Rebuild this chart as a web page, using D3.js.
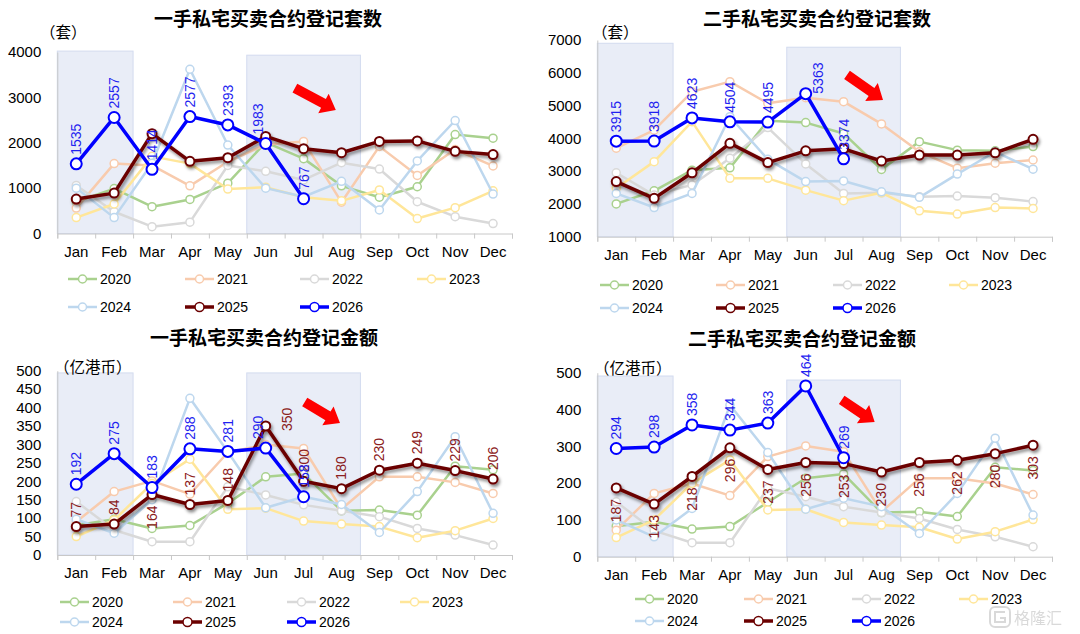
<!DOCTYPE html>
<html>
<head>
<meta charset="utf-8">
<script src="https://cdn.jsdelivr.net/npm/d3@7"></script>
<style>
  body { margin: 0; background: #fff; }
  text { font-family: "Liberation Sans", Arial, sans-serif; }
  .cjk { font-family: "Noto Sans CJK SC", sans-serif; }
</style>
</head>
<body>
<div id="chart"></div>
<script>
// page size
const width = 1080
const height = 634

// categories
const months = ['Jan', 'Feb', 'Mar', 'Apr', 'May', 'Jun', 'Jul', 'Aug', 'Sep', 'Oct', 'Nov', 'Dec']
const years = ['2020', '2021', '2022', '2023', '2024', '2025', '2026']

// 一手私宅 套数 (rows = years 2020..2026)
const newUnits = [
  [700, 990, 590, 750, 1110, 2010, 1650, 1050, 800, 1030, 2180, 2100],
  [560, 1540, 1500, 1050, 1580, 1960, 2030, 690, 1920, 1280, 1850, 1490],
  [1060, 480, 150, 250, 1500, 1370, 1180, 1560, 1420, 700, 370, 220],
  [350, 650, 1700, 1540, 980, 1020, 800, 720, 960, 330, 570, 940],
  [1000, 350, 1550, 3620, 1950, 1000, 810, 1150, 520, 1600, 2490, 870],
  [760, 890, 2200, 1590, 1670, 2140, 1870, 1780, 2030, 2040, 1810, 1740],
  [1535, 2557, 1414, 2577, 2393, 1983, 767]
]

// 二手私宅 套数
const secondUnits = [
  [2000, 2400, 3030, 3100, 4540, 4480, 4150, 3050, 3900, 3640, 3620, 3750],
  [3700, 4250, 5420, 5730, 5070, 5240, 5120, 4440, 3590, 3090, 3240, 3340],
  [2950, 2270, 2580, 3390, 4330, 3220, 2320, 2340, 2220, 2240, 2190, 2070],
  [2480, 3290, 4510, 2780, 2780, 2420, 2100, 2340, 1790, 1690, 1890, 1860],
  [2320, 1890, 2320, 4660, 3360, 2680, 2700, 2370, 2200, 2910, 3590, 3060],
  [2680, 2170, 2950, 3850, 3260, 3620, 3680, 3310, 3490, 3490, 3560, 3970],
  [3915, 3918, 4623, 4504, 4495, 5363, 3374]
]

// 一手私宅 金额 (亿港币)
const newAmount = [
  [81, 97, 72, 80, 140, 212, 221, 120, 122, 108, 241, 231],
  [90, 172, 201, 165, 278, 300, 289, 125, 212, 212, 197, 167],
  [145, 68, 36, 36, 185, 163, 136, 120, 104, 72, 54, 27],
  [50, 95, 194, 260, 124, 127, 92, 84, 77, 47, 66, 99],
  [97, 59, 150, 425, 280, 128, 158, 137, 61, 172, 321, 113],
  [77, 84, 164, 137, 148, 350, 200, 180, 230, 249, 229, 206],
  [192, 275, 183, 288, 281, 290, 158]
]

// 二手私宅 金额 (亿港币)
const secondAmount = [
  [83, 95, 75, 82, 148, 213, 225, 120, 122, 109, 243, 234],
  [72, 172, 199, 166, 272, 301, 285, 122, 213, 213, 199, 169],
  [149, 71, 38, 38, 186, 163, 136, 120, 104, 74, 54, 27],
  [52, 100, 199, 263, 127, 129, 93, 86, 80, 48, 68, 101],
  [100, 54, 131, 412, 283, 129, 159, 136, 63, 172, 322, 113],
  [187, 143, 218, 296, 237, 256, 253, 230, 256, 262, 280, 303],
  [294, 298, 358, 344, 363, 464, 269]
]

// tick labels
const newUnitsTicks = [0, 1000, 2000, 3000, 4000]
const secondUnitsTicks = [1000, 2000, 3000, 4000, 5000, 6000, 7000]
const newAmountTicks = [0, 50, 100, 150, 200, 250, 300, 350, 400, 450, 500]
const secondAmountTicks = [0, 100, 200, 300, 400, 500]

const colors = ['#a9d18e', '#f8cbad', '#d9d9d9', '#ffe699', '#bdd7ee', '#6b0000', '#0000ff']
const lineW = [2.5, 2.5, 2.5, 2.5, 2.5, 3.5, 3.5]
const dotR = [4, 4, 4, 4, 4, 4.5, 5.5]

const svg = d3.select('#chart')
  .append('svg')
  .attr('width', width)
  .attr('height', height)

const defs = svg.append('defs')
defs.append('filter')
  .attr('id', 'shadow')
  .attr('x', '-10%').attr('y', '-30%').attr('width', '120%').attr('height', '160%')
  .append('feDropShadow')
  .attr('dx', 1.5).attr('dy', 2.5)
  .attr('stdDeviation', 1.6)
  .attr('flood-color', '#000')
  .attr('flood-opacity', 0.45)

// layout of the four panels
const panels = [
  { title: '一手私宅买卖合约登记套数', unit: '（套）', data: newUnits, ticks: newUnitsTicks,
    left: 57.3, right: 512, top: 52, bottom: 233.5,
    titleX: 268, titleY: 26, unitX: 40, unitY: 38,
    shades: [[0, 1, 4020], [5, 7, 3930]], arrow: [[5.77, 3205], [6.85, 2720]],
    legendX: [68, 185, 300, 417], legendY: [279, 307],
    blueLab: ['u', 'u', 'u', 'u', 'u', 'ul', 'u'], redLab: null },
  { title: '二手私宅买卖合约登记套数', unit: '（套）', data: secondUnits, ticks: secondUnitsTicks,
    left: 597.3, right: 1052, top: 40, bottom: 236.7,
    titleX: 817, titleY: 26, unitX: 592, unitY: 38,
    shades: [[0, 1, 6900], [5, 7, 6780]], arrow: [[6.09, 5933], [7.04, 5170]],
    legendX: [600, 716, 833, 949], legendY: [285, 308],
    blueLab: ['u', 'u', 'u', 'u', 'u', 'r', 'u'], redLab: null },
  { title: '一手私宅买卖合约登记金额', unit: '（亿港币）', data: newAmount, ticks: newAmountTicks,
    left: 57.3, right: 512, top: 370.7, bottom: 555,
    titleX: 264, titleY: 345, unitX: 54, unitY: 373,
    shades: [[0, 1, 494], [5, 7, 494]], arrow: [[6.03, 415], [6.96, 358]],
    legendX: [60, 173, 287, 400], legendY: [602, 622],
    blueLab: ['u', 'u', 'u', 'u', 'u', 'ul', 'u'],
    redLab: ['u', 'u', 'd', 'u', 'u', 'rr', 'u', 'u', 'u', 'u', 'u', 'u'] },
  { title: '二手私宅买卖合约登记金额', unit: '（亿港币）', data: secondAmount, ticks: secondAmountTicks,
    left: 597.3, right: 1052, top: 372.7, bottom: 556.7,
    titleX: 802, titleY: 346, unitX: 594, unitY: 374,
    shades: [[0, 1, 491], [5, 7, 480]], arrow: [[5.95, 426], [6.82, 366]],
    legendX: [635, 744, 852, 959], legendY: [599, 621],
    blueLab: ['u', 'u', 'u', 'u', 'u', 'u', 'u'],
    redLab: ['d', 'd', 'd', 'd', 'd', 'd', 'd', 'd', 'd', 'd', 'd', 'd'] }
]

// label offsets by placement code
const labPos = {
  u: { dx: 0, dy: -9, anchor: 'start' },
  ul: { dx: -8, dy: -9, anchor: 'start' },
  d: { dx: 0, dy: 11, anchor: 'end' },
  r: { dx: 12, dy: 0, anchor: 'start' },
  rr: { dx: 21, dy: 5, anchor: 'start' }
}

const drawPanel = function (p) {
  const g = svg.append('g')

  const xScale = d3.scaleBand().domain(months).range([p.left, p.right]).padding(0)
  const xIdx = d3.scaleLinear().domain([0, 12]).range([p.left, p.right])
  const yScale = d3.scaleLinear()
    .domain([p.ticks[0], p.ticks[p.ticks.length - 1]])
    .range([p.bottom, p.top])
  const cx = (i) => xScale(months[i]) + xScale.bandwidth() / 2

  // shaded periods
  g.selectAll('.shade')
    .data(p.shades)
    .enter()
    .append('rect')
    .attr('class', 'shade')
    .attr('x', (d) => xIdx(d[0]))
    .attr('width', (d) => xIdx(d[1] + 1) - xIdx(d[0]))
    .attr('y', (d) => yScale(d[2]))
    .attr('height', (d) => p.bottom - yScale(d[2]))
    .attr('fill', '#e9edf7')
    .attr('stroke', '#d3dbef')
    .attr('stroke-width', 1)

  // axes
  const yAxis = d3.axisLeft(yScale).tickValues(p.ticks).tickSize(0).tickPadding(16).tickFormat(d3.format('d'))
  const ga = g.append('g')
    .attr('transform', 'translate(' + p.left + ',0)')
    .call(yAxis)
  ga.select('.domain').attr('stroke', '#c8c8c8')
  ga.selectAll('text').attr('font-size', 15).attr('fill', '#000')

  const xTicks = d3.axisBottom(xIdx).tickValues(d3.range(13)).tickSize(5).tickFormat('')
  const gx = g.append('g')
    .attr('transform', 'translate(0,' + p.bottom + ')')
    .call(xTicks)
  gx.select('.domain').attr('stroke', '#c8c8c8')
  gx.selectAll('line').attr('stroke', '#c8c8c8')

  const xAxis = d3.axisBottom(xScale).tickSize(0).tickPadding(0)
  const gl = g.append('g')
    .attr('transform', 'translate(0,' + p.bottom + ')')
    .call(xAxis)
  gl.select('.domain').remove()
  gl.selectAll('text').attr('font-size', 15).attr('fill', '#000').attr('dy', 23)

  // titles
  g.append('text')
    .attr('class', 'cjk')
    .attr('x', p.titleX).attr('y', p.titleY)
    .attr('text-anchor', 'middle')
    .attr('font-size', 19).attr('font-weight', 'bold')
    .text(p.title)
  g.append('text')
    .attr('class', 'cjk')
    .attr('x', p.unitX).attr('y', p.unitY)
    .attr('font-size', 15.5)
    .text(p.unit)

  // lines
  const line = d3.line()
    .x((d, i) => cx(i))
    .y((d) => yScale(d))

  p.data.forEach(function (series, s) {
    const sg = g.append('g')
    if (s === 5) sg.attr('filter', 'url(#shadow)')
    sg.append('path')
      .datum(series)
      .attr('d', line)
      .attr('fill', 'none')
      .attr('stroke', colors[s])
      .attr('stroke-width', lineW[s])
      .attr('stroke-linejoin', 'round')
    sg.selectAll('circle')
      .data(series)
      .enter()
      .append('circle')
      .attr('cx', (d, i) => cx(i))
      .attr('cy', (d) => yScale(d))
      .attr('r', dotR[s])
      .attr('fill', '#fff')
      .attr('stroke', colors[s])
      .attr('stroke-width', s >= 5 ? 2 : 1.5)
  })

  // data labels
  const addLabels = function (series, places, color) {
    g.append('g').selectAll('text')
      .data(series)
      .enter()
      .append('text')
      .attr('transform', function (d, i) {
        const o = labPos[places[i]]
        return 'translate(' + (cx(i) + o.dx) + ',' + (yScale(d) + o.dy) + ') rotate(-90)'
      })
      .attr('text-anchor', (d, i) => labPos[places[i]].anchor)
      .attr('dominant-baseline', 'central')
      .attr('font-size', 14)
      .attr('fill', color)
      .text((d) => d)
  }
  if (p.redLab) addLabels(p.data[5], p.redLab, '#8b2020')
  addLabels(p.data[6], p.blueLab, '#1f1ff0')

  // red arrow
  const a0 = [xIdx(p.arrow[0][0] + 0.5), yScale(p.arrow[0][1])]
  const a1 = [xIdx(p.arrow[1][0] + 0.5), yScale(p.arrow[1][1])]
  const len = Math.hypot(a1[0] - a0[0], a1[1] - a0[1])
  const ang = Math.atan2(a1[1] - a0[1], a1[0] - a0[0]) * 180 / Math.PI
  const hl = 14
  const pts = [[0, -5], [len - hl, -5], [len - hl, -11], [len, 0], [len - hl, 11], [len - hl, 5], [0, 5]]
  g.append('path')
    .attr('d', 'M' + pts.map((q) => q.join(',')).join('L') + 'Z')
    .attr('transform', 'translate(' + a0[0] + ',' + a0[1] + ') rotate(' + ang + ')')
    .attr('fill', '#ff0000')

  // legend
  years.forEach(function (yr, s) {
    const lx = p.legendX[s % 4]
    const ly = p.legendY[Math.floor(s / 4)]
    const lg = g.append('g')
    lg.append('line')
      .attr('x1', lx).attr('x2', lx + 29)
      .attr('y1', ly).attr('y2', ly)
      .attr('stroke', colors[s])
      .attr('stroke-width', lineW[s])
    lg.append('circle')
      .attr('cx', lx + 14.5).attr('cy', ly)
      .attr('r', s >= 5 ? 4.5 : 4)
      .attr('fill', '#fff')
      .attr('stroke', colors[s])
      .attr('stroke-width', 1.5)
    lg.append('text')
      .attr('x', lx + 32).attr('y', ly + 5)
      .attr('font-size', 14)
      .text(yr)
  })
}

panels.forEach(drawPanel)

// watermark
const wm = svg.append('g').attr('opacity', 0.55)
wm.append('rect')
  .attr('x', 990).attr('y', 607).attr('width', 20).attr('height', 20).attr('rx', 5)
  .attr('fill', 'none').attr('stroke', '#bbb').attr('stroke-width', 2)
wm.append('path')
  .attr('d', 'M1005,612 L995,612 L995,622 L1005,622 L1005,618 L1000,618')
  .attr('fill', 'none').attr('stroke', '#bbb').attr('stroke-width', 2)
wm.append('text')
  .attr('class', 'cjk')
  .attr('x', 1014).attr('y', 624)
  .attr('font-size', 16).attr('fill', '#bbb')
  .text('格隆汇')
</script>
</body>
</html>
